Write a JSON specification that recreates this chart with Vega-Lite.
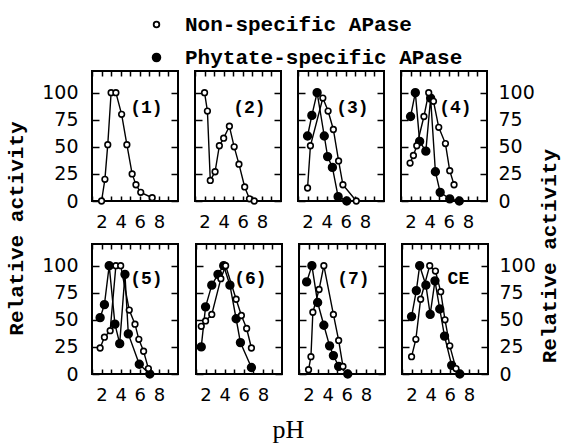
{
  "$schema": "https://vega.github.io/schema/vega-lite/v6.json",
  "padding": {"left": 5, "top": 14, "right": 5, "bottom": 5},
  "config": {
    "view": {"stroke": "black", "strokeWidth": 2},
    "axis": {"domain": false, "grid": false, "title": null, "tickColor": "black", "tickWidth": 1.5, "labelColor": "black", "labelFont": "DejaVu Sans", "labelOverlap": false, "labelFlush": false},
    "concat": {"spacing": 13}
  },
  "datasets": {
    "points": [
      {"panel": 1, "series": "Non-specific APase", "pH": 2.0, "activity": 0},
      {"panel": 1, "series": "Non-specific APase", "pH": 2.35, "activity": 20},
      {"panel": 1, "series": "Non-specific APase", "pH": 2.65, "activity": 52},
      {"panel": 1, "series": "Non-specific APase", "pH": 3.0, "activity": 100},
      {"panel": 1, "series": "Non-specific APase", "pH": 3.5, "activity": 100},
      {"panel": 1, "series": "Non-specific APase", "pH": 4.1, "activity": 80},
      {"panel": 1, "series": "Non-specific APase", "pH": 4.65, "activity": 52},
      {"panel": 1, "series": "Non-specific APase", "pH": 5.2, "activity": 25},
      {"panel": 1, "series": "Non-specific APase", "pH": 5.6, "activity": 15},
      {"panel": 1, "series": "Non-specific APase", "pH": 6.1, "activity": 8},
      {"panel": 1, "series": "Non-specific APase", "pH": 7.3, "activity": 3},
      {"panel": 2, "series": "Non-specific APase", "pH": 2.0, "activity": 100},
      {"panel": 2, "series": "Non-specific APase", "pH": 2.3, "activity": 83},
      {"panel": 2, "series": "Non-specific APase", "pH": 2.6, "activity": 19},
      {"panel": 2, "series": "Non-specific APase", "pH": 3.1, "activity": 27},
      {"panel": 2, "series": "Non-specific APase", "pH": 3.55, "activity": 51},
      {"panel": 2, "series": "Non-specific APase", "pH": 4.0, "activity": 58},
      {"panel": 2, "series": "Non-specific APase", "pH": 4.6, "activity": 69},
      {"panel": 2, "series": "Non-specific APase", "pH": 5.1, "activity": 50},
      {"panel": 2, "series": "Non-specific APase", "pH": 5.6, "activity": 34},
      {"panel": 2, "series": "Non-specific APase", "pH": 6.2, "activity": 13},
      {"panel": 2, "series": "Non-specific APase", "pH": 6.7, "activity": 2},
      {"panel": 2, "series": "Non-specific APase", "pH": 7.2, "activity": 0},
      {"panel": 3, "series": "Phytate-specific APase", "pH": 2.0, "activity": 60},
      {"panel": 3, "series": "Phytate-specific APase", "pH": 2.45, "activity": 79},
      {"panel": 3, "series": "Phytate-specific APase", "pH": 3.0, "activity": 100},
      {"panel": 3, "series": "Phytate-specific APase", "pH": 3.75, "activity": 60},
      {"panel": 3, "series": "Phytate-specific APase", "pH": 4.1, "activity": 41},
      {"panel": 3, "series": "Phytate-specific APase", "pH": 4.6, "activity": 31},
      {"panel": 3, "series": "Phytate-specific APase", "pH": 5.2, "activity": 4},
      {"panel": 3, "series": "Phytate-specific APase", "pH": 6.1, "activity": 0},
      {"panel": 3, "series": "Non-specific APase", "pH": 2.0, "activity": 12},
      {"panel": 3, "series": "Non-specific APase", "pH": 2.3, "activity": 51},
      {"panel": 3, "series": "Non-specific APase", "pH": 3.6, "activity": 95},
      {"panel": 3, "series": "Non-specific APase", "pH": 4.15, "activity": 83},
      {"panel": 3, "series": "Non-specific APase", "pH": 4.7, "activity": 66},
      {"panel": 3, "series": "Non-specific APase", "pH": 5.25, "activity": 37},
      {"panel": 3, "series": "Non-specific APase", "pH": 5.7, "activity": 15},
      {"panel": 3, "series": "Non-specific APase", "pH": 7.1, "activity": 0},
      {"panel": 4, "series": "Phytate-specific APase", "pH": 2.0, "activity": 78},
      {"panel": 4, "series": "Phytate-specific APase", "pH": 2.5, "activity": 100},
      {"panel": 4, "series": "Phytate-specific APase", "pH": 2.95, "activity": 55},
      {"panel": 4, "series": "Phytate-specific APase", "pH": 3.6, "activity": 46},
      {"panel": 4, "series": "Phytate-specific APase", "pH": 4.1, "activity": 95},
      {"panel": 4, "series": "Phytate-specific APase", "pH": 4.6, "activity": 27},
      {"panel": 4, "series": "Phytate-specific APase", "pH": 5.1, "activity": 8},
      {"panel": 4, "series": "Phytate-specific APase", "pH": 6.1, "activity": 2},
      {"panel": 4, "series": "Phytate-specific APase", "pH": 7.1, "activity": 0},
      {"panel": 4, "series": "Non-specific APase", "pH": 1.95, "activity": 35},
      {"panel": 4, "series": "Non-specific APase", "pH": 2.3, "activity": 42},
      {"panel": 4, "series": "Non-specific APase", "pH": 2.65, "activity": 51},
      {"panel": 4, "series": "Non-specific APase", "pH": 3.4, "activity": 78},
      {"panel": 4, "series": "Non-specific APase", "pH": 3.9, "activity": 100},
      {"panel": 4, "series": "Non-specific APase", "pH": 4.4, "activity": 92},
      {"panel": 4, "series": "Non-specific APase", "pH": 4.95, "activity": 68},
      {"panel": 4, "series": "Non-specific APase", "pH": 5.65, "activity": 53},
      {"panel": 4, "series": "Non-specific APase", "pH": 6.1, "activity": 28},
      {"panel": 4, "series": "Non-specific APase", "pH": 6.55, "activity": 15},
      {"panel": 5, "series": "Phytate-specific APase", "pH": 1.85, "activity": 52},
      {"panel": 5, "series": "Phytate-specific APase", "pH": 2.3, "activity": 64},
      {"panel": 5, "series": "Phytate-specific APase", "pH": 2.8, "activity": 100},
      {"panel": 5, "series": "Phytate-specific APase", "pH": 3.4, "activity": 46},
      {"panel": 5, "series": "Phytate-specific APase", "pH": 3.9, "activity": 28},
      {"panel": 5, "series": "Phytate-specific APase", "pH": 4.45, "activity": 92},
      {"panel": 5, "series": "Phytate-specific APase", "pH": 4.8, "activity": 37},
      {"panel": 5, "series": "Phytate-specific APase", "pH": 5.95, "activity": 9},
      {"panel": 5, "series": "Phytate-specific APase", "pH": 7.05, "activity": 0},
      {"panel": 5, "series": "Non-specific APase", "pH": 1.85, "activity": 24},
      {"panel": 5, "series": "Non-specific APase", "pH": 2.3, "activity": 34},
      {"panel": 5, "series": "Non-specific APase", "pH": 2.9, "activity": 40},
      {"panel": 5, "series": "Non-specific APase", "pH": 3.5, "activity": 100},
      {"panel": 5, "series": "Non-specific APase", "pH": 4.0, "activity": 100},
      {"panel": 5, "series": "Non-specific APase", "pH": 4.9, "activity": 59},
      {"panel": 5, "series": "Non-specific APase", "pH": 5.5, "activity": 46},
      {"panel": 5, "series": "Non-specific APase", "pH": 5.9, "activity": 32},
      {"panel": 5, "series": "Non-specific APase", "pH": 6.4, "activity": 21},
      {"panel": 5, "series": "Non-specific APase", "pH": 6.9, "activity": 5},
      {"panel": 6, "series": "Phytate-specific APase", "pH": 1.55, "activity": 25},
      {"panel": 6, "series": "Phytate-specific APase", "pH": 2.0, "activity": 62},
      {"panel": 6, "series": "Phytate-specific APase", "pH": 2.65, "activity": 82},
      {"panel": 6, "series": "Phytate-specific APase", "pH": 3.3, "activity": 92},
      {"panel": 6, "series": "Phytate-specific APase", "pH": 3.9, "activity": 100},
      {"panel": 6, "series": "Phytate-specific APase", "pH": 4.55, "activity": 82},
      {"panel": 6, "series": "Phytate-specific APase", "pH": 5.2, "activity": 51},
      {"panel": 6, "series": "Phytate-specific APase", "pH": 5.65, "activity": 29},
      {"panel": 6, "series": "Phytate-specific APase", "pH": 6.8, "activity": 6},
      {"panel": 6, "series": "Non-specific APase", "pH": 1.55, "activity": 44},
      {"panel": 6, "series": "Non-specific APase", "pH": 2.0, "activity": 49},
      {"panel": 6, "series": "Non-specific APase", "pH": 2.65, "activity": 55},
      {"panel": 6, "series": "Non-specific APase", "pH": 3.6, "activity": 88},
      {"panel": 6, "series": "Non-specific APase", "pH": 4.1, "activity": 100},
      {"panel": 6, "series": "Non-specific APase", "pH": 5.2, "activity": 69},
      {"panel": 6, "series": "Non-specific APase", "pH": 5.75, "activity": 54},
      {"panel": 6, "series": "Non-specific APase", "pH": 6.3, "activity": 42},
      {"panel": 6, "series": "Non-specific APase", "pH": 6.8, "activity": 24},
      {"panel": 7, "series": "Phytate-specific APase", "pH": 1.8, "activity": 85},
      {"panel": 7, "series": "Phytate-specific APase", "pH": 2.35, "activity": 100},
      {"panel": 7, "series": "Phytate-specific APase", "pH": 2.95, "activity": 66},
      {"panel": 7, "series": "Phytate-specific APase", "pH": 3.6, "activity": 45},
      {"panel": 7, "series": "Phytate-specific APase", "pH": 4.2, "activity": 26},
      {"panel": 7, "series": "Phytate-specific APase", "pH": 4.6, "activity": 17},
      {"panel": 7, "series": "Phytate-specific APase", "pH": 5.15, "activity": 7},
      {"panel": 7, "series": "Phytate-specific APase", "pH": 6.1, "activity": 0},
      {"panel": 7, "series": "Non-specific APase", "pH": 2.0, "activity": 4},
      {"panel": 7, "series": "Non-specific APase", "pH": 2.25, "activity": 16},
      {"panel": 7, "series": "Non-specific APase", "pH": 2.45, "activity": 57},
      {"panel": 7, "series": "Non-specific APase", "pH": 3.1, "activity": 78},
      {"panel": 7, "series": "Non-specific APase", "pH": 3.6, "activity": 100},
      {"panel": 7, "series": "Non-specific APase", "pH": 4.6, "activity": 55},
      {"panel": 7, "series": "Non-specific APase", "pH": 5.15, "activity": 31},
      {"panel": 7, "series": "Non-specific APase", "pH": 5.6, "activity": 7},
      {"panel": 8, "series": "Phytate-specific APase", "pH": 2.0, "activity": 53},
      {"panel": 8, "series": "Phytate-specific APase", "pH": 2.5, "activity": 77},
      {"panel": 8, "series": "Phytate-specific APase", "pH": 2.85, "activity": 100},
      {"panel": 8, "series": "Phytate-specific APase", "pH": 3.5, "activity": 82},
      {"panel": 8, "series": "Phytate-specific APase", "pH": 3.95, "activity": 55},
      {"panel": 8, "series": "Phytate-specific APase", "pH": 4.45, "activity": 86},
      {"panel": 8, "series": "Phytate-specific APase", "pH": 4.95, "activity": 60},
      {"panel": 8, "series": "Phytate-specific APase", "pH": 5.45, "activity": 35},
      {"panel": 8, "series": "Phytate-specific APase", "pH": 6.2, "activity": 8},
      {"panel": 8, "series": "Phytate-specific APase", "pH": 7.05, "activity": 0},
      {"panel": 8, "series": "Non-specific APase", "pH": 2.0, "activity": 16},
      {"panel": 8, "series": "Non-specific APase", "pH": 2.45, "activity": 32},
      {"panel": 8, "series": "Non-specific APase", "pH": 2.95, "activity": 69},
      {"panel": 8, "series": "Non-specific APase", "pH": 3.9, "activity": 100},
      {"panel": 8, "series": "Non-specific APase", "pH": 4.5, "activity": 95},
      {"panel": 8, "series": "Non-specific APase", "pH": 5.05, "activity": 76},
      {"panel": 8, "series": "Non-specific APase", "pH": 5.5, "activity": 50},
      {"panel": 8, "series": "Non-specific APase", "pH": 6.0, "activity": 26},
      {"panel": 8, "series": "Non-specific APase", "pH": 6.65, "activity": 5}
    ],
    "labels": [
      {"panel": 1, "label": "(1)", "pH": 6.7, "activity": 86},
      {"panel": 2, "label": "(2)", "pH": 6.7, "activity": 86},
      {"panel": 3, "label": "(3)", "pH": 6.7, "activity": 86},
      {"panel": 4, "label": "(4)", "pH": 6.7, "activity": 86},
      {"panel": 5, "label": "(5)", "pH": 6.7, "activity": 88},
      {"panel": 6, "label": "(6)", "pH": 6.7, "activity": 88},
      {"panel": 7, "label": "(7)", "pH": 6.7, "activity": 88},
      {"panel": 8, "label": "CE", "pH": 6.9, "activity": 88}
    ]
  },
  "title": {"text": "Relative activity", "orient": "left", "anchor": "middle", "font": "Liberation Mono", "fontSize": 21, "fontWeight": "bold", "color": "black", "offset": 14},
  "resolve": {"scale": {"fill": "shared", "size": "shared"}, "legend": {"fill": "shared", "size": "shared"}},
  "hconcat": [
    {
      "title": {"text": "Relative activity", "orient": "right", "anchor": "middle", "angle": 270, "font": "Liberation Mono", "fontSize": 21, "fontWeight": "bold", "color": "black", "offset": -18},
      "resolve": {"scale": {"fill": "shared", "size": "shared"}, "legend": {"fill": "shared", "size": "shared"}},
      "vconcat": [
        {
          "title": {"text": "pH", "orient": "bottom", "anchor": "middle", "font": "Liberation Serif", "fontSize": 26, "fontWeight": "normal", "color": "black", "offset": 12},
          "resolve": {"scale": {"fill": "shared", "size": "shared"}, "legend": {"fill": "shared", "size": "shared"}},
          "spacing": 10,
          "vconcat": [
            {
              "resolve": {"scale": {"fill": "shared", "size": "shared"}, "legend": {"fill": "shared", "size": "shared"}},
              "hconcat": [
                {"width": 86, "height": 130, "resolve": {"axis": {"x": "independent", "y": "independent"}}, "layer": [
                  {"data": {"name": "points"}, "transform": [{"filter": "datum.panel == 1"}], "mark": {"type": "line", "color": "black", "strokeWidth": 1.4},
                   "encoding": {"x": {"field": "pH", "type": "quantitative", "scale": {"domain": [1, 9.2]}, "axis": {"orient": "bottom", "values": [1,2,3,4,5,6,7,8,9], "labelExpr": "datum.value % 2 == 0 ? datum.label : ''", "tickSize": -5, "labelPadding": 17, "labelFontSize": 18}},
                                "y": {"field": "activity", "type": "quantitative", "scale": {"domain": [0, 118]}, "axis": {"orient": "left", "values": [0,25,50,75,100], "tickSize": -7, "labelPadding": 21, "labelFontSize": 19}},
                                "detail": {"field": "series"}}},
                  {"data": {"name": "points"}, "transform": [{"filter": "datum.panel == 1"}], "mark": {"type": "point", "shape": "circle", "filled": true, "stroke": "black", "strokeWidth": 1.6, "opacity": 1},
                   "encoding": {"x": {"field": "pH", "type": "quantitative", "scale": {"domain": [1, 9.2]}, "axis": {"orient": "top", "values": [1,2,3,4,5,6,7,8,9], "labels": false, "tickSize": -5}},
                                "y": {"field": "activity", "type": "quantitative", "scale": {"domain": [0, 118]}, "axis": {"orient": "right", "values": [0,25,50,75,100], "labels": false, "tickSize": -7}},
                                "fill": {"field": "series", "type": "nominal", "scale": {"domain": ["Non-specific APase", "Phytate-specific APase"], "range": ["white", "black"]}, "legend": {"orient": "none", "legendX": 54, "legendY": -57, "title": null, "labelLimit": 0, "labelFont": "Liberation Mono", "labelFontSize": 21, "labelFontWeight": "bold", "labelColor": "black", "symbolStrokeColor": "black", "symbolStrokeWidth": 1.8, "rowPadding": 11, "labelOffset": 18}},
                                "size": {"field": "series", "type": "nominal", "scale": {"domain": ["Non-specific APase", "Phytate-specific APase"], "range": [32, 60]}}}},
                  {"data": {"name": "labels"}, "transform": [{"filter": "datum.panel == 1"}], "mark": {"type": "text", "font": "Liberation Mono", "fontWeight": "bold", "fontSize": 18, "color": "black"},
                   "encoding": {"x": {"field": "pH", "type": "quantitative", "axis": null}, "y": {"field": "activity", "type": "quantitative", "axis": null}, "text": {"field": "label"}}}
                ]},
                {"width": 86, "height": 130, "resolve": {"axis": {"x": "independent", "y": "independent"}}, "layer": [
                  {"data": {"name": "points"}, "transform": [{"filter": "datum.panel == 2"}], "mark": {"type": "line", "color": "black", "strokeWidth": 1.4},
                   "encoding": {"x": {"field": "pH", "type": "quantitative", "scale": {"domain": [1, 9.2]}, "axis": {"orient": "bottom", "values": [1,2,3,4,5,6,7,8,9], "labelExpr": "datum.value % 2 == 0 ? datum.label : ''", "tickSize": -5, "labelPadding": 17, "labelFontSize": 18}},
                                "y": {"field": "activity", "type": "quantitative", "scale": {"domain": [0, 118]}, "axis": {"orient": "left", "values": [0,25,50,75,100], "tickSize": -7, "labels": false}},
                                "detail": {"field": "series"}}},
                  {"data": {"name": "points"}, "transform": [{"filter": "datum.panel == 2"}], "mark": {"type": "point", "shape": "circle", "filled": true, "stroke": "black", "strokeWidth": 1.6, "opacity": 1},
                   "encoding": {"x": {"field": "pH", "type": "quantitative", "scale": {"domain": [1, 9.2]}, "axis": {"orient": "top", "values": [1,2,3,4,5,6,7,8,9], "labels": false, "tickSize": -5}},
                                "y": {"field": "activity", "type": "quantitative", "scale": {"domain": [0, 118]}, "axis": {"orient": "right", "values": [0,25,50,75,100], "labels": false, "tickSize": -7}},
                                "fill": {"field": "series", "type": "nominal", "scale": {"domain": ["Non-specific APase", "Phytate-specific APase"], "range": ["white", "black"]}},
                                "size": {"field": "series", "type": "nominal", "scale": {"domain": ["Non-specific APase", "Phytate-specific APase"], "range": [32, 60]}}}},
                  {"data": {"name": "labels"}, "transform": [{"filter": "datum.panel == 2"}], "mark": {"type": "text", "font": "Liberation Mono", "fontWeight": "bold", "fontSize": 18, "color": "black"},
                   "encoding": {"x": {"field": "pH", "type": "quantitative", "axis": null}, "y": {"field": "activity", "type": "quantitative", "axis": null}, "text": {"field": "label"}}}
                ]},
                {"width": 86, "height": 130, "resolve": {"axis": {"x": "independent", "y": "independent"}}, "layer": [
                  {"data": {"name": "points"}, "transform": [{"filter": "datum.panel == 3"}], "mark": {"type": "line", "color": "black", "strokeWidth": 1.4},
                   "encoding": {"x": {"field": "pH", "type": "quantitative", "scale": {"domain": [1, 9.2]}, "axis": {"orient": "bottom", "values": [1,2,3,4,5,6,7,8,9], "labelExpr": "datum.value % 2 == 0 ? datum.label : ''", "tickSize": -5, "labelPadding": 17, "labelFontSize": 18}},
                                "y": {"field": "activity", "type": "quantitative", "scale": {"domain": [0, 118]}, "axis": {"orient": "left", "values": [0,25,50,75,100], "tickSize": -7, "labels": false}},
                                "detail": {"field": "series"}}},
                  {"data": {"name": "points"}, "transform": [{"filter": "datum.panel == 3"}], "mark": {"type": "point", "shape": "circle", "filled": true, "stroke": "black", "strokeWidth": 1.6, "opacity": 1},
                   "encoding": {"x": {"field": "pH", "type": "quantitative", "scale": {"domain": [1, 9.2]}, "axis": {"orient": "top", "values": [1,2,3,4,5,6,7,8,9], "labels": false, "tickSize": -5}},
                                "y": {"field": "activity", "type": "quantitative", "scale": {"domain": [0, 118]}, "axis": {"orient": "right", "values": [0,25,50,75,100], "labels": false, "tickSize": -7}},
                                "fill": {"field": "series", "type": "nominal", "scale": {"domain": ["Non-specific APase", "Phytate-specific APase"], "range": ["white", "black"]}},
                                "size": {"field": "series", "type": "nominal", "scale": {"domain": ["Non-specific APase", "Phytate-specific APase"], "range": [32, 60]}}}},
                  {"data": {"name": "labels"}, "transform": [{"filter": "datum.panel == 3"}], "mark": {"type": "text", "font": "Liberation Mono", "fontWeight": "bold", "fontSize": 18, "color": "black"},
                   "encoding": {"x": {"field": "pH", "type": "quantitative", "axis": null}, "y": {"field": "activity", "type": "quantitative", "axis": null}, "text": {"field": "label"}}}
                ]},
                {"width": 86, "height": 130, "resolve": {"axis": {"x": "independent", "y": "independent"}}, "layer": [
                  {"data": {"name": "points"}, "transform": [{"filter": "datum.panel == 4"}], "mark": {"type": "line", "color": "black", "strokeWidth": 1.4},
                   "encoding": {"x": {"field": "pH", "type": "quantitative", "scale": {"domain": [1, 9.2]}, "axis": {"orient": "bottom", "values": [1,2,3,4,5,6,7,8,9], "labelExpr": "datum.value % 2 == 0 ? datum.label : ''", "tickSize": -5, "labelPadding": 17, "labelFontSize": 18}},
                                "y": {"field": "activity", "type": "quantitative", "scale": {"domain": [0, 118]}, "axis": {"orient": "left", "values": [0,25,50,75,100], "tickSize": -7, "labels": false}},
                                "detail": {"field": "series"}}},
                  {"data": {"name": "points"}, "transform": [{"filter": "datum.panel == 4"}], "mark": {"type": "point", "shape": "circle", "filled": true, "stroke": "black", "strokeWidth": 1.6, "opacity": 1},
                   "encoding": {"x": {"field": "pH", "type": "quantitative", "scale": {"domain": [1, 9.2]}, "axis": {"orient": "top", "values": [1,2,3,4,5,6,7,8,9], "labels": false, "tickSize": -5}},
                                "y": {"field": "activity", "type": "quantitative", "scale": {"domain": [0, 118]}, "axis": {"orient": "right", "values": [0,25,50,75,100], "tickSize": -7, "labelPadding": 18, "labelFontSize": 19}},
                                "fill": {"field": "series", "type": "nominal", "scale": {"domain": ["Non-specific APase", "Phytate-specific APase"], "range": ["white", "black"]}},
                                "size": {"field": "series", "type": "nominal", "scale": {"domain": ["Non-specific APase", "Phytate-specific APase"], "range": [32, 60]}}}},
                  {"data": {"name": "labels"}, "transform": [{"filter": "datum.panel == 4"}], "mark": {"type": "text", "font": "Liberation Mono", "fontWeight": "bold", "fontSize": 18, "color": "black"},
                   "encoding": {"x": {"field": "pH", "type": "quantitative", "axis": null}, "y": {"field": "activity", "type": "quantitative", "axis": null}, "text": {"field": "label"}}}
                ]}
              ]
            },
            {
              "resolve": {"scale": {"fill": "shared", "size": "shared"}, "legend": {"fill": "shared", "size": "shared"}},
              "hconcat": [
                {"width": 86, "height": 130, "resolve": {"axis": {"x": "independent", "y": "independent"}}, "layer": [
                  {"data": {"name": "points"}, "transform": [{"filter": "datum.panel == 5"}], "mark": {"type": "line", "color": "black", "strokeWidth": 1.4},
                   "encoding": {"x": {"field": "pH", "type": "quantitative", "scale": {"domain": [1, 9.2]}, "axis": {"orient": "bottom", "values": [1,2,3,4,5,6,7,8,9], "labelExpr": "datum.value % 2 == 0 ? datum.label : ''", "tickSize": -5, "labelPadding": 17, "labelFontSize": 18}},
                                "y": {"field": "activity", "type": "quantitative", "scale": {"domain": [0, 118]}, "axis": {"orient": "left", "values": [0,25,50,75,100], "tickSize": -7, "labelPadding": 21, "labelFontSize": 19}},
                                "detail": {"field": "series"}}},
                  {"data": {"name": "points"}, "transform": [{"filter": "datum.panel == 5"}], "mark": {"type": "point", "shape": "circle", "filled": true, "stroke": "black", "strokeWidth": 1.6, "opacity": 1},
                   "encoding": {"x": {"field": "pH", "type": "quantitative", "scale": {"domain": [1, 9.2]}, "axis": {"orient": "top", "values": [1,2,3,4,5,6,7,8,9], "labels": false, "tickSize": -5}},
                                "y": {"field": "activity", "type": "quantitative", "scale": {"domain": [0, 118]}, "axis": {"orient": "right", "values": [0,25,50,75,100], "labels": false, "tickSize": -7}},
                                "fill": {"field": "series", "type": "nominal", "scale": {"domain": ["Non-specific APase", "Phytate-specific APase"], "range": ["white", "black"]}},
                                "size": {"field": "series", "type": "nominal", "scale": {"domain": ["Non-specific APase", "Phytate-specific APase"], "range": [32, 60]}}}},
                  {"data": {"name": "labels"}, "transform": [{"filter": "datum.panel == 5"}], "mark": {"type": "text", "font": "Liberation Mono", "fontWeight": "bold", "fontSize": 18, "color": "black"},
                   "encoding": {"x": {"field": "pH", "type": "quantitative", "axis": null}, "y": {"field": "activity", "type": "quantitative", "axis": null}, "text": {"field": "label"}}}
                ]},
                {"width": 86, "height": 130, "resolve": {"axis": {"x": "independent", "y": "independent"}}, "layer": [
                  {"data": {"name": "points"}, "transform": [{"filter": "datum.panel == 6"}], "mark": {"type": "line", "color": "black", "strokeWidth": 1.4},
                   "encoding": {"x": {"field": "pH", "type": "quantitative", "scale": {"domain": [1, 9.2]}, "axis": {"orient": "bottom", "values": [1,2,3,4,5,6,7,8,9], "labelExpr": "datum.value % 2 == 0 ? datum.label : ''", "tickSize": -5, "labelPadding": 17, "labelFontSize": 18}},
                                "y": {"field": "activity", "type": "quantitative", "scale": {"domain": [0, 118]}, "axis": {"orient": "left", "values": [0,25,50,75,100], "tickSize": -7, "labels": false}},
                                "detail": {"field": "series"}}},
                  {"data": {"name": "points"}, "transform": [{"filter": "datum.panel == 6"}], "mark": {"type": "point", "shape": "circle", "filled": true, "stroke": "black", "strokeWidth": 1.6, "opacity": 1},
                   "encoding": {"x": {"field": "pH", "type": "quantitative", "scale": {"domain": [1, 9.2]}, "axis": {"orient": "top", "values": [1,2,3,4,5,6,7,8,9], "labels": false, "tickSize": -5}},
                                "y": {"field": "activity", "type": "quantitative", "scale": {"domain": [0, 118]}, "axis": {"orient": "right", "values": [0,25,50,75,100], "labels": false, "tickSize": -7}},
                                "fill": {"field": "series", "type": "nominal", "scale": {"domain": ["Non-specific APase", "Phytate-specific APase"], "range": ["white", "black"]}},
                                "size": {"field": "series", "type": "nominal", "scale": {"domain": ["Non-specific APase", "Phytate-specific APase"], "range": [32, 60]}}}},
                  {"data": {"name": "labels"}, "transform": [{"filter": "datum.panel == 6"}], "mark": {"type": "text", "font": "Liberation Mono", "fontWeight": "bold", "fontSize": 18, "color": "black"},
                   "encoding": {"x": {"field": "pH", "type": "quantitative", "axis": null}, "y": {"field": "activity", "type": "quantitative", "axis": null}, "text": {"field": "label"}}}
                ]},
                {"width": 86, "height": 130, "resolve": {"axis": {"x": "independent", "y": "independent"}}, "layer": [
                  {"data": {"name": "points"}, "transform": [{"filter": "datum.panel == 7"}], "mark": {"type": "line", "color": "black", "strokeWidth": 1.4},
                   "encoding": {"x": {"field": "pH", "type": "quantitative", "scale": {"domain": [1, 9.2]}, "axis": {"orient": "bottom", "values": [1,2,3,4,5,6,7,8,9], "labelExpr": "datum.value % 2 == 0 ? datum.label : ''", "tickSize": -5, "labelPadding": 17, "labelFontSize": 18}},
                                "y": {"field": "activity", "type": "quantitative", "scale": {"domain": [0, 118]}, "axis": {"orient": "left", "values": [0,25,50,75,100], "tickSize": -7, "labels": false}},
                                "detail": {"field": "series"}}},
                  {"data": {"name": "points"}, "transform": [{"filter": "datum.panel == 7"}], "mark": {"type": "point", "shape": "circle", "filled": true, "stroke": "black", "strokeWidth": 1.6, "opacity": 1},
                   "encoding": {"x": {"field": "pH", "type": "quantitative", "scale": {"domain": [1, 9.2]}, "axis": {"orient": "top", "values": [1,2,3,4,5,6,7,8,9], "labels": false, "tickSize": -5}},
                                "y": {"field": "activity", "type": "quantitative", "scale": {"domain": [0, 118]}, "axis": {"orient": "right", "values": [0,25,50,75,100], "labels": false, "tickSize": -7}},
                                "fill": {"field": "series", "type": "nominal", "scale": {"domain": ["Non-specific APase", "Phytate-specific APase"], "range": ["white", "black"]}},
                                "size": {"field": "series", "type": "nominal", "scale": {"domain": ["Non-specific APase", "Phytate-specific APase"], "range": [32, 60]}}}},
                  {"data": {"name": "labels"}, "transform": [{"filter": "datum.panel == 7"}], "mark": {"type": "text", "font": "Liberation Mono", "fontWeight": "bold", "fontSize": 18, "color": "black"},
                   "encoding": {"x": {"field": "pH", "type": "quantitative", "axis": null}, "y": {"field": "activity", "type": "quantitative", "axis": null}, "text": {"field": "label"}}}
                ]},
                {"width": 86, "height": 130, "resolve": {"axis": {"x": "independent", "y": "independent"}}, "layer": [
                  {"data": {"name": "points"}, "transform": [{"filter": "datum.panel == 8"}], "mark": {"type": "line", "color": "black", "strokeWidth": 1.4},
                   "encoding": {"x": {"field": "pH", "type": "quantitative", "scale": {"domain": [1, 9.2]}, "axis": {"orient": "bottom", "values": [1,2,3,4,5,6,7,8,9], "labelExpr": "datum.value % 2 == 0 ? datum.label : ''", "tickSize": -5, "labelPadding": 17, "labelFontSize": 18}},
                                "y": {"field": "activity", "type": "quantitative", "scale": {"domain": [0, 118]}, "axis": {"orient": "left", "values": [0,25,50,75,100], "tickSize": -7, "labels": false}},
                                "detail": {"field": "series"}}},
                  {"data": {"name": "points"}, "transform": [{"filter": "datum.panel == 8"}], "mark": {"type": "point", "shape": "circle", "filled": true, "stroke": "black", "strokeWidth": 1.6, "opacity": 1},
                   "encoding": {"x": {"field": "pH", "type": "quantitative", "scale": {"domain": [1, 9.2]}, "axis": {"orient": "top", "values": [1,2,3,4,5,6,7,8,9], "labels": false, "tickSize": -5}},
                                "y": {"field": "activity", "type": "quantitative", "scale": {"domain": [0, 118]}, "axis": {"orient": "right", "values": [0,25,50,75,100], "tickSize": -7, "labelPadding": 18, "labelFontSize": 19}},
                                "fill": {"field": "series", "type": "nominal", "scale": {"domain": ["Non-specific APase", "Phytate-specific APase"], "range": ["white", "black"]}},
                                "size": {"field": "series", "type": "nominal", "scale": {"domain": ["Non-specific APase", "Phytate-specific APase"], "range": [32, 60]}}}},
                  {"data": {"name": "labels"}, "transform": [{"filter": "datum.panel == 8"}], "mark": {"type": "text", "font": "Liberation Mono", "fontWeight": "bold", "fontSize": 18, "color": "black"},
                   "encoding": {"x": {"field": "pH", "type": "quantitative", "axis": null}, "y": {"field": "activity", "type": "quantitative", "axis": null}, "text": {"field": "label"}}}
                ]}
              ]
            }
          ]
        }
      ]
    }
  ]
}
